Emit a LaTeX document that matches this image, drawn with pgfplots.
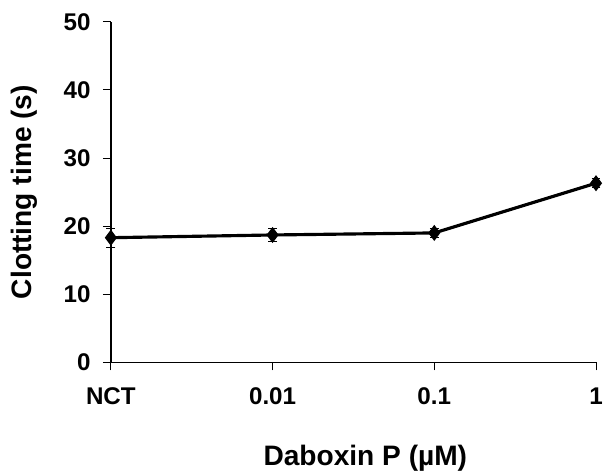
\documentclass[border=0pt]{standalone}
\usepackage{pgfplots}
\pgfplotsset{compat=1.18}
\usepackage{fontspec}
\setmainfont{Liberation Sans}
\begin{document}
\begin{tikzpicture}
\begin{axis}[
  scale only axis,
  width=490bp, height=344bp,
  xmin=0, xmax=3, ymin=0, ymax=50,
  xtick={0,1,2,3},
  xticklabels={NCT,0.01,0.1,1},
  ytick={0,10,20,30,40,50},
  axis lines*=left,
  axis line style={line width=1.3pt},
  tick style={black, line width=0.9pt},
  tick align=outside,
  major tick length=8bp,
  /pgf/number format/assume math mode=true,
  tick label style={font=\fontsize{24.5}{27}\selectfont\bfseries},
  label style={font=\fontsize{28.5}{31}\selectfont\bfseries},
  xlabel={Daboxin P (µM)},
  ylabel={Clotting time (s)},
  xticklabel style={yshift=-14bp},
  yticklabel style={xshift=-9bp},
  xlabel style={yshift=-34bp, xshift=12bp},
  ylabel style={yshift=20bp},
  clip=false,
]
\addplot[black, line width=3.2pt, mark=diamond*, mark size=5.5bp,
  error bars/.cd, y dir=both, y explicit,
  error bar style={line width=1pt, solid},
  error mark options={rotate=90, mark size=4.5bp, line width=1pt}]
  coordinates {
  (0,18.3) +- (0,1.4)
  (1,18.7) +- (0,0.9)
  (2,19.0) +- (0,0.6)
  (3,26.3) +- (0,0.65)
  };
\end{axis}
\path ([xshift=-112bp,yshift=-97bp]current axis.south west) rectangle ([xshift=4bp,yshift=22bp]current axis.north east);
\end{tikzpicture}
\end{document}
